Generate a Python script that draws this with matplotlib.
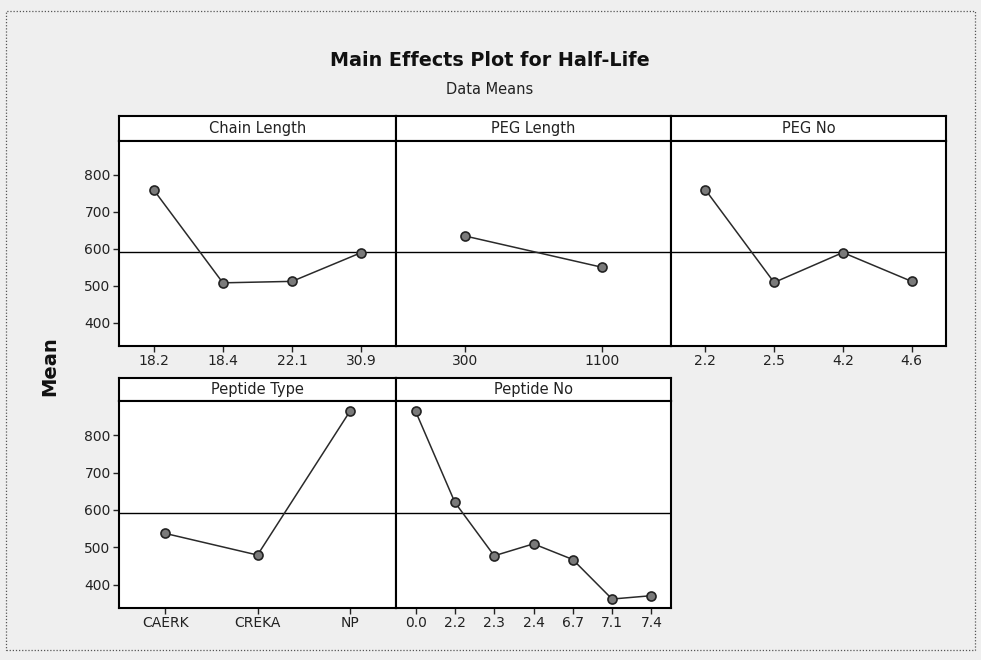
import matplotlib
matplotlib.use("Agg")
import matplotlib.pyplot as plt
from matplotlib.patches import Rectangle

plt.rcParams['font.family'] = ['DejaVu Sans']

# ---- data ----
title = "Main Effects Plot for Half-Life"
subtitle = "Data Means"
ylabel = "Mean"
grand_mean = 592

chain_length_levels = ["18.2", "18.4", "22.1", "30.9"]
chain_length_means = [760, 508, 512, 590]

peg_length_levels = ["300", "1100"]
peg_length_means = [635, 550]

peg_no_levels = ["2.2", "2.5", "4.2", "4.6"]
peg_no_means = [760, 509, 590, 512]

peptide_type_levels = ["CAERK", "CREKA", "NP"]
peptide_type_means = [537, 479, 864]

peptide_no_levels = ["0.0", "2.2", "2.3", "2.4", "6.7", "7.1", "7.4"]
peptide_no_means = [864, 620, 477, 509, 467, 361, 370]

yticks = [400, 500, 600, 700, 800]

factors = [
    ("Chain Length", chain_length_levels, chain_length_means),
    ("PEG Length", peg_length_levels, peg_length_means),
    ("PEG No", peg_no_levels, peg_no_means),
    ("Peptide Type", peptide_type_levels, peptide_type_means),
    ("Peptide No", peptide_no_levels, peptide_no_means),
]

W, H = 981, 660
fig = plt.figure(figsize=(W / 100, H / 100), dpi=100)
fig.patch.set_facecolor('#efefef')

def px(x0, y0, x1, y1):
    return [x0 / W, 1 - y1 / H, (x1 - x0) / W, (y1 - y0) / H]

# outer dotted frame
fig.add_artist(Rectangle((6 / W, 1 - 650 / H), (975 - 6) / W, (650 - 11) / H,
                         transform=fig.transFigure, fill=False,
                         edgecolor='#555555', linestyle=(0, (1, 1.5)), lw=0.9))

fig.text(490 / W, 1 - 60 / H, title, ha='center', va='center',
         fontsize=13.8, fontweight='bold', color='#111111')
fig.text(490 / W, 1 - 89 / H, subtitle, ha='center', va='center',
         fontsize=10.5, color='#222222')
fig.text(50 / W, 1 - 366 / H, ylabel, ha='center', va='center',
         rotation=90, fontsize=14, fontweight='bold', color='#111111')

cols = [(119, 396), (396, 671), (671, 946)]
rows = [(116, 141, 346), (378, 401, 608)]
ylim = (337, 892)

for i, (name, levels, means) in enumerate(factors):
    r, c = divmod(i, 3)
    x0, x1 = cols[c]
    yh, yt, yb = rows[r]
    # header strip
    hax = fig.add_axes(px(x0, yh, x1, yt))
    hax.set_facecolor('white')
    hax.set_xticks([]); hax.set_yticks([])
    for s in hax.spines.values():
        s.set_linewidth(1.5); s.set_color('black')
    hax.text(0.5, 0.5, name, ha='center', va='center', fontsize=10.5,
             color='#222222', transform=hax.transAxes)
    # plot panel
    ax = fig.add_axes(px(x0, yt, x1, yb))
    ax.set_facecolor('white')
    xs = list(range(1, len(levels) + 1))
    ax.axhline(grand_mean, color='black', lw=1.0, zorder=1)
    ax.plot(xs, means, color='#2a2a2a', lw=1.1, zorder=2,
            marker='o', ms=6.5, mfc='#7a7a7a', mec='#222222', mew=1.2)
    ax.set_xlim(0.5, len(levels) + 0.5)
    ax.set_ylim(*ylim)
    ax.set_xticks(xs)
    ax.set_xticklabels(levels, fontsize=10, color='#222222')
    ax.set_yticks(yticks)
    if c == 0:
        ax.set_yticklabels([str(v) for v in yticks], fontsize=10, color='#222222')
    else:
        ax.tick_params(axis='y', left=False, labelleft=False)
    ax.tick_params(axis='both', direction='out', length=4, width=1, color='#222222', pad=2)
    for s in ax.spines.values():
        s.set_linewidth(1.5); s.set_color('black')

fig.savefig("out.png", dpi=100, facecolor=fig.get_facecolor())
